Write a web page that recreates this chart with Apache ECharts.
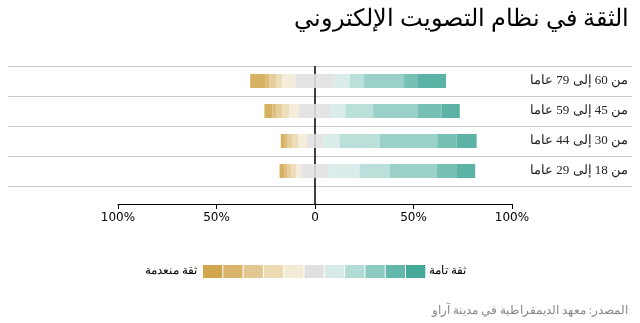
<!DOCTYPE html>
<html>
<head>
<meta charset="utf-8">
<script src="https://cdn.jsdelivr.net/npm/echarts@6/dist/echarts.min.js"></script>
<style>html,body{margin:0;padding:0;background:#fff}#c{width:640px;height:323px}</style>
</head>
<body>
<div id="c"></div>
<script>
// Age groups, top to bottom
const ageGroups = ["من 60 إلى 79 عاما", "من 45 إلى 59 عاما", "من 30 إلى 44 عاما", "من 18 إلى 29 عاما"];
// Trust levels 0 (no trust) .. 10 (full trust)
const levels = ["0", "1", "2", "3", "4", "5", "6", "7", "8", "9", "10"];
// Share (%) of each trust level, per age group
const age60to79 = [7.6, 2.2, 3.4, 2.9, 6.8, 20.0, 7.6, 7.3, 20.3, 7.1, 14.2];
const age45to59 = [4.1, 2.0, 3.0, 3.6, 4.9, 16.2, 7.3, 14.1, 22.8, 12.0, 9.2];
const age30to44 = [2.0, 1.5, 2.5, 3.0, 4.2, 8.3, 8.3, 20.5, 29.1, 9.8, 10.2];
const age18to29 = [2.5, 1.5, 2.0, 2.5, 2.5, 14.0, 15.6, 15.2, 24.1, 9.8, 9.6];
const tickValues = [-100, -50, 0, 50, 100];
const title = "الثقة في نظام التصويت الإلكتروني";
const source = "المصدر: معهد الديمقراطية في مدينة آراو";
const lowLabel = "ثقة منعدمة";
const highLabel = "ثقة تامة";

const colors = ["#d2a64c", "#dab46a", "#e2c790", "#ebdab2", "#f4ebd7", "#e0e0e0",
                "#d6ebe7", "#b0dcd5", "#8cc9c0", "#63b7aa", "#46a899"];
const rows = [age60to79, age45to59, age30to44, age18to29];

const series = [];
function mk(levelIdx, values) {
  return {
    type: 'bar', name: levels[levelIdx], stack: 'all', xAxisIndex: 0, yAxisIndex: 0,
    barWidth: 14, data: values,
    itemStyle: { color: colors[levelIdx], opacity: 0.88 },
    emphasis: { disabled: true }, animation: false
  };
}
// negative side: half neutral nearest to zero, then 4..0
series.push(mk(5, rows.map(r => -r[5] / 2)));
for (let i = 4; i >= 0; i--) series.push(mk(i, rows.map(r => -r[i])));
// positive side
series.push(mk(5, rows.map(r => r[5] / 2)));
for (let i = 6; i <= 10; i++) series.push(mk(i, rows.map(r => r[i])));

const chart = echarts.init(document.getElementById('c'), null, { renderer: 'canvas' });
chart.setOption({
  animation: false,
  title: [
    { text: title, right: 6, top: 3, textStyle: { fontFamily: 'serif', fontSize: 24, fontWeight: 'normal', color: '#000' } },
    { text: source, right: 7, top: 300, textStyle: { fontFamily: 'serif', fontSize: 11.7, fontWeight: 'normal', color: '#888' } },
    { text: lowLabel, right: 438, top: 260, textStyle: { fontFamily: 'serif', fontSize: 12, fontWeight: 'normal', color: '#000' } },
    { text: highLabel, left: 424, top: 260, textStyle: { fontFamily: 'serif', fontSize: 12, fontWeight: 'normal', color: '#000' } }
  ],
  legend: {
    data: levels, left: 203, top: 265, padding: 0, itemWidth: 19.3, itemHeight: 13, itemGap: 1,
    icon: 'rect', formatter: () => '', selectedMode: false,
    itemStyle: { opacity: 1 }
  },
  grid: [
    { left: 118, width: 394, top: 66, height: 120 },
    { left: 8, right: 8, top: 66, height: 120 },
    { left: 118, width: 394, top: 66, height: 138 }
  ],
  xAxis: [
    { gridIndex: 0, type: 'value', min: -100, max: 100, interval: 50, offset: 18,
      axisLine: { show: true, lineStyle: { color: '#000', width: 1 } },
      axisTick: { show: true, length: 5, lineStyle: { color: '#000' } },
      axisLabel: { margin: 8, fontSize: 12, color: '#000', fontFamily: 'DejaVu Sans',
        formatter: v => v === 0 ? '0' : Math.abs(v) + '%' },
      splitLine: { show: false } },
    { gridIndex: 1, type: 'value', min: 0, max: 1, show: false },
    { gridIndex: 2, type: 'value', min: -100, max: 100, interval: 100,
      axisLine: { show: false }, axisTick: { show: false }, axisLabel: { show: false },
      splitLine: { show: true, showMinLine: false, showMaxLine: false, lineStyle: { color: '#000', width: 1.5 } } }
  ],
  yAxis: [
    { gridIndex: 0, type: 'category', data: ageGroups, inverse: true, show: false },
    { gridIndex: 1, type: 'category', data: ageGroups, inverse: true, position: 'right',
      axisLine: { show: false }, axisTick: { show: false },
      axisLabel: { inside: true, margin: 4, fontSize: 13, color: '#222', fontFamily: 'serif' },
      splitLine: { show: true, lineStyle: { color: '#ccc', width: 1 } } },
    { gridIndex: 2, type: 'value', min: 0, max: 1, show: false }
  ],
  series: series
});
</script>
</body>
</html>
